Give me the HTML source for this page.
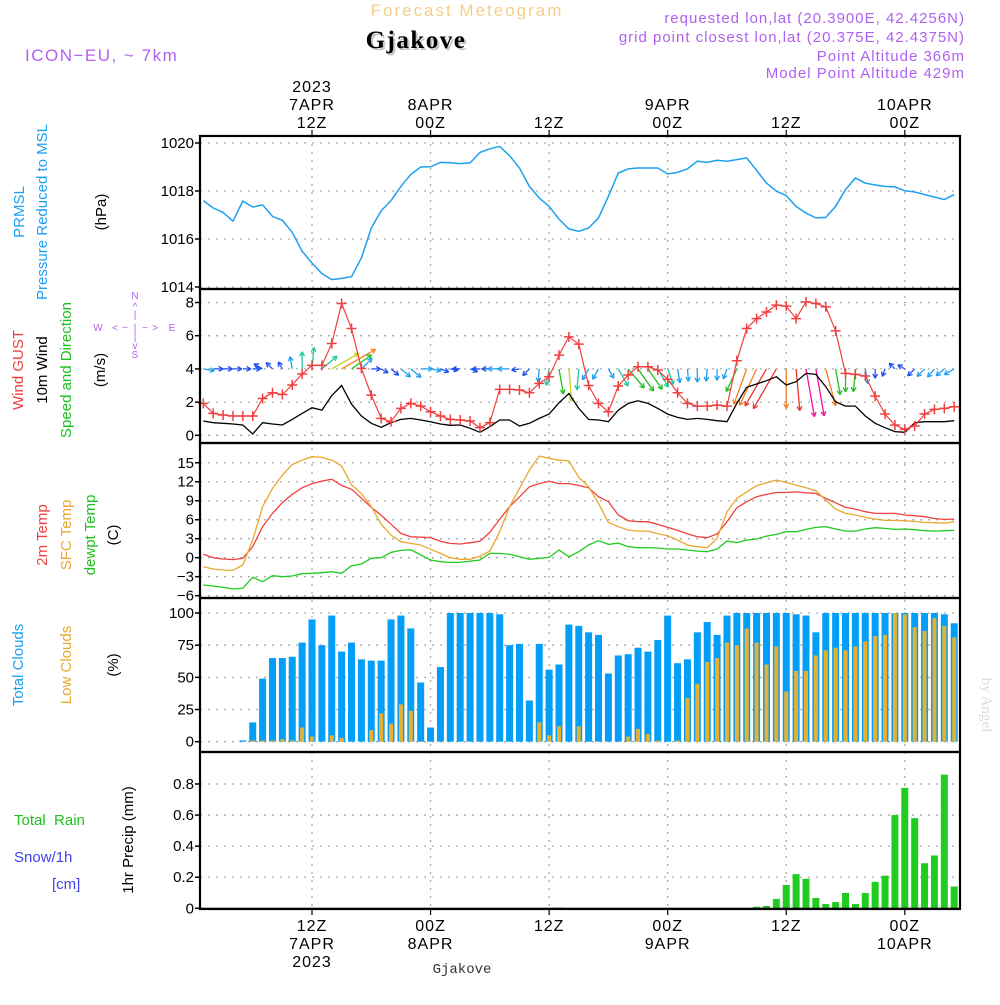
<!DOCTYPE html>
<html><head><meta charset="utf-8"><style>
body{margin:0;background:#fff;width:1000px;height:1000px;overflow:hidden}
svg{font-family:"Liberation Sans",sans-serif}
</style></head><body>
<svg id="chart" width="1000" height="1000" xmlns="http://www.w3.org/2000/svg">
<g>
<text x="467" y="16" font-size="17" fill="#f4cf8c" text-anchor="middle" letter-spacing="2">Forecast Meteogram</text>
<text x="418" y="50" font-size="25" font-weight="bold" fill="#bcc8bc" font-family="Liberation Serif,serif" text-anchor="middle" letter-spacing="1.5">Gjakove</text>
<text x="416" y="48" font-size="25" font-weight="bold" fill="#000" font-family="Liberation Serif,serif" text-anchor="middle" letter-spacing="1.5">Gjakove</text>
<text x="25" y="61" font-size="17" fill="#b060f0" letter-spacing="1.5">ICON−EU, ~ 7km</text>
<g font-size="15" fill="#b060f0" text-anchor="end" letter-spacing="1">
<text x="965" y="23">requested lon,lat (20.3900E, 42.4256N)</text>
<text x="965" y="42">grid point closest lon,lat (20.375E, 42.4375N)</text>
<text x="965" y="61">Point Altitude 366m</text>
<text x="965" y="78">Model Point Altitude 429m</text>
</g>
</g>
<g id="grid"></g>
<g id="marks"></g>
<g id="frame"></g>
<g id="labels" font-size="15">
<g text-anchor="middle" fill="#000">
<text transform="translate(24,212) rotate(-90)" fill="#1ea0f0">PRMSL</text>
<text transform="translate(47,212) rotate(-90)" fill="#1ea0f0">Pressure Reduced to MSL</text>
<text transform="translate(106,212) rotate(-90)">(hPa)</text>
<text transform="translate(23,370) rotate(-90)" fill="#f04040">Wind GUST</text>
<text transform="translate(47,370) rotate(-90)">10m Wind</text>
<text transform="translate(71,370) rotate(-90)" fill="#20c020">Speed and Direction</text>
<text transform="translate(105,370) rotate(-90)">(m/s)</text>
<text transform="translate(47,535) rotate(-90)" fill="#f04040">2m Temp</text>
<text transform="translate(71,535) rotate(-90)" fill="#e8a830">SFC Temp</text>
<text transform="translate(95,535) rotate(-90)" fill="#20c020">dewpt Temp</text>
<text transform="translate(118,535) rotate(-90)">(C)</text>
<text transform="translate(23,665) rotate(-90)" fill="#1ea0f0">Total Clouds</text>
<text transform="translate(71,665) rotate(-90)" fill="#e8a830">Low Clouds</text>
<text transform="translate(118,665) rotate(-90)">(%)</text>
<text transform="translate(133,840) rotate(-90)">1hr Precip (mm)</text>
<text transform="translate(982,705) rotate(90)" fill="#dcdcdc" font-family="Liberation Serif,serif">by Angel</text>
</g>
<text x="14" y="825" fill="#20c020" xml:space="preserve">Total  Rain</text>
<text x="14" y="862" fill="#4040f0">Snow/1h</text>
<text x="52" y="889" fill="#4040f0">[cm]</text>
<g fill="#b060f0" font-size="10" text-anchor="middle">
<text x="135" y="299">N</text><text x="135" y="310">^</text><text x="135" y="318">|</text>
<text x="135" y="340">|</text><text x="135" y="349">v</text><text x="135" y="358">S</text>
<text x="98" y="331">W</text><text x="172" y="331">E</text>
<text x="115" y="331">&lt;</text><text x="125" y="331">−</text><text x="135" y="331">|</text><text x="145" y="331">−</text><text x="155" y="331">&gt;</text>
</g>
<text x="462" y="973" font-size="14" font-family="Liberation Mono,monospace" fill="#333" text-anchor="middle">Gjakove</text>
</g>
</svg>
<script>
const hours=[];for(let h=1;h<=77;h++)hours.push(h);
const pressure=[1017.6,1017.29,1017.11,1016.74,1017.58,1017.33,1017.42,1016.94,1016.78,1016.28,1015.49,1015.0,1014.56,1014.31,1014.36,1014.43,1015.21,1016.46,1017.18,1017.6,1018.19,1018.69,1019.0,1019.01,1019.19,1019.18,1019.14,1019.17,1019.61,1019.76,1019.86,1019.47,1018.96,1018.19,1017.71,1017.36,1016.83,1016.42,1016.32,1016.46,1016.88,1017.78,1018.75,1018.92,1018.96,1018.96,1018.96,1018.71,1018.78,1018.92,1019.24,1019.19,1019.28,1019.24,1019.31,1019.38,1018.86,1018.33,1017.99,1017.81,1017.36,1017.08,1016.88,1016.9,1017.36,1018.06,1018.54,1018.33,1018.25,1018.19,1018.17,1018.01,1017.96,1017.85,1017.75,1017.64,1017.85];
const gust=[1.92,1.32,1.22,1.16,1.16,1.16,2.22,2.56,2.46,3.03,3.69,4.21,4.21,5.53,7.94,6.43,4.03,2.42,1.02,0.82,1.62,1.92,1.76,1.42,1.16,0.96,0.92,0.86,0.46,0.76,2.77,2.77,2.73,2.56,3.13,3.53,4.83,5.93,5.49,3.0,1.92,1.42,2.97,3.63,4.13,4.13,3.93,3.37,2.56,1.92,1.76,1.76,1.82,1.76,4.49,6.43,7.03,7.43,7.84,7.78,7.03,8.04,7.94,7.74,6.29,3.73,3.67,3.57,2.36,1.28,0.62,0.36,0.56,1.28,1.56,1.62,1.72];
const wind=[0.86,0.76,0.72,0.68,0.62,0.08,0.76,0.68,0.62,0.96,1.32,1.66,1.52,2.4,3.0,1.88,1.16,0.72,0.48,0.76,0.96,1.02,0.92,0.82,0.68,0.6,0.62,0.42,0.18,0.52,0.92,0.92,0.56,0.72,1.02,1.28,1.96,2.52,1.62,0.96,0.92,0.82,1.52,1.92,2.08,1.92,1.62,1.28,1.08,0.96,1.02,0.96,0.88,0.82,1.92,2.89,3.09,3.29,3.53,3.03,3.23,3.73,3.67,2.93,2.02,1.76,1.76,1.16,0.72,0.46,0.22,0.18,0.76,0.82,0.82,0.82,0.88];
const windDir=[-10,0,0,0,0,0,150,135,120,100,90,85,40,30,30,35,45,0,-30,-40,-40,-40,0,-10,-20,-10,180,-20,180,180,180,180,190,225,-95,-100,-80,-85,-95,-120,-120,-60,-60,-50,-55,-55,-60,-70,-80,-85,-90,-95,-90,-110,-115,-110,-115,-120,-120,-90,-85,-80,-80,-75,-80,-90,-95,-80,-90,-110,135,150,-135,-135,-130,-140,-150];
const temp2m=[0.53,0,-0.2,-0.3,-0.1,1.74,4.9,7.0,8.7,10.0,11.05,11.7,12.1,12.4,11.4,10.8,9.4,7.95,6.7,5.3,3.84,3.3,3.26,3.16,2.6,2.26,2.16,2.37,2.6,4.0,6.1,8.05,9.6,11.2,11.7,12.05,11.7,11.7,11.4,11.05,9.63,8.84,6.74,5.84,5.68,5.68,5.26,4.79,4.32,3.79,3.32,3.16,3.74,5.68,7.89,8.84,9.63,10.0,10.3,10.3,10.4,10.26,10.16,9.37,8.68,7.95,7.68,7.26,7.0,7.0,7.0,6.74,6.63,6.47,6.2,6.05,6.1];
const sfcTemp=[-1.42,-1.79,-1.95,-2.0,-1.16,2.79,8.05,10.95,13.05,14.7,15.4,15.95,15.84,15.4,14.5,11.5,10.16,8.05,5.3,3.58,2.53,2.26,2.0,1.32,0.68,0,-0.26,-0.26,0.26,1.05,4.1,8.05,10.95,13.84,16.05,15.7,15.4,15.3,12.7,11.2,8.58,5.58,4.89,4.37,4.2,4.2,3.79,3.47,2.79,2.0,1.74,1.58,3.05,7.26,9.37,10.4,11.37,11.84,12.26,11.9,11.47,11.05,10.58,9.1,7.68,7.0,6.74,6.37,6.1,5.9,5.9,5.84,5.74,5.58,5.53,5.47,5.68];
const dewpt=[-4.32,-4.47,-4.68,-4.95,-4.84,-3.1,-3.79,-2.84,-3.0,-2.89,-2.53,-2.47,-2.37,-2.21,-2.47,-1.26,-1.0,-0.1,0,0.84,1.16,1.26,0.42,-0.37,-0.63,-0.74,-0.74,-0.53,-0.37,0.68,0.68,0.53,0.16,-0.26,-0.1,0.05,1.21,0.16,0.95,2.0,2.68,2.1,2.3,1.74,1.58,1.58,1.53,1.37,1.37,1.21,1.05,0.95,1.37,2.63,2.37,2.79,2.95,3.42,3.68,4.1,4.1,4.47,4.79,4.89,4.53,4.21,4.21,4.53,4.74,4.63,4.47,4.53,4.42,4.26,4.21,4.26,4.32];
const totalClouds=[0,0,0,0,1,15,49,65,65,66,77,95,75,98,70,77,64,63,63,95,98,88,46,11,58,100,100,100,100,100,99,75,76,32,76,56,60,91,90,85,83,53,67,68,73,70,79,98,61,64,85,93,83,98,100,100,100,100,100,100,99,98,85,100,100,100,100,100,100,100,100,100,100,100,100,99,92];
const lowClouds=[0,0,0,0,0,1,1,1,2,1,11,4,0,5,3,0,0,9,22,14,29,24,0,0,0,0,0,0,0,0,0,0,0,0,15,5,12,0,12,0,0,0,0,4,10,6,1,0,1,34,45,62,65,77,75,88,77,60,74,39,55,55,67,71,73,71,74,78,82,83,100,99,89,86,96,90,81];
const precip=[0,0,0,0,0,0,0,0,0,0,0,0,0,0,0,0,0,0,0,0,0,0,0,0,0,0,0,0,0,0,0,0,0,0,0,0,0.004,0,0,0,0,0,0,0,0,0,0,0,0,0,0,0,0,0,0,0,0.01,0.015,0.06,0.15,0.22,0.19,0.067,0.028,0.04,0.099,0.028,0.099,0.17,0.21,0.6,0.775,0.58,0.29,0.34,0.86,0.14];
const pTicks=[1014,1016,1018,1020],wTicks=[0,2,4,6,8],tTicks=[-6,-3,0,3,6,9,12,15],cTicks=[0,25,50,75,100],rTicks=[0,0.2,0.4,0.6,0.8];
const timeTicks=[12,24,36,48,60,72];
const topTime=[["2023","7APR","12Z"],["","8APR","00Z"],["","","12Z"],["","9APR","00Z"],["","","12Z"],["","10APR","00Z"]];
const botTime=[["12Z","7APR","2023"],["00Z","8APR",""],["12Z","",""],["00Z","9APR",""],["12Z","",""],["00Z","10APR",""]];

const NS="http://www.w3.org/2000/svg";
const X0=200,X1=960;
const x=h=>312+(h-12)*9.88;
const py=p=>143+(1020-p)*24;
const wy=v=>435.3-v*16.6;
const ty=t=>557.7-t*6.33;
const cy=c=>741.7-c*1.287;
const ry=r=>908.3-r*155.4;
const panels=[[136,289],[289,443],[443,598],[598,752],[752,909]];
function el(tag,attrs,parent){const e=document.createElementNS(NS,tag);for(const k in attrs)e.setAttribute(k,attrs[k]);parent.appendChild(e);return e;}
const grid=document.getElementById('grid'),marks=document.getElementById('marks'),frame=document.getElementById('frame'),labels=document.getElementById('labels');
const dot={stroke:"#aaa","stroke-width":1.3,"stroke-dasharray":"2 6"};
function hgrid(ticks,f,fmt){ticks.forEach(t=>{const y=f(t);
 const g=el('line',Object.assign({x1:X0,x2:X1,y1:y,y2:y},dot),grid);
 
 
 el('line',{x1:X0-5,x2:X0,y1:y,y2:y,stroke:"#000","stroke-width":1.5},frame);
 const tx=el('text',{x:X0-6,y:y+5,"text-anchor":"end","font-size":15},labels);tx.textContent=fmt?fmt(t):String(t).replace('-','−');
 
 
});}
hgrid(pTicks,py);hgrid(wTicks,wy);hgrid(tTicks,ty);hgrid(cTicks,cy);hgrid(rTicks,ry,t=>t===0?"0":t.toFixed(1));
timeTicks.forEach((h,i)=>{const xx=x(h);
 const g=el('line',Object.assign({x1:xx,x2:xx,y1:136,y2:909},dot),grid);
 
 
 el('line',{x1:xx,x2:xx,y1:130,y2:136,stroke:"#000","stroke-width":1.2},frame);
 el('line',{x1:xx,x2:xx,y1:909,y2:915,stroke:"#000","stroke-width":1.2},frame);
 topTime[i].forEach((s,j)=>{if(!s)return;const t=el('text',{x:xx,y:92+j*18,"text-anchor":"middle","font-size":16,"letter-spacing":1},labels);t.textContent=s;
  
  });
 botTime[i].forEach((s,j)=>{if(!s)return;const t=el('text',{x:xx,y:931+j*18,"text-anchor":"middle","font-size":16,"letter-spacing":1},labels);t.textContent=s;
  
  });
});
panels.forEach(p=>{const r=el('rect',{x:X0,y:p[0],width:X1-X0,height:p[1]-p[0],fill:"none",stroke:"#000","stroke-width":2.2},frame);
 
 });
function line(vals,f,color,name,w){const pts=vals.map((v,i)=>x(hours[i]).toFixed(1)+","+f(v).toFixed(1)).join(" ");
 const l=el('polyline',{points:pts,fill:"none",stroke:color,"stroke-width":w||1.3},marks);
 
 return l;}
line(pressure,py,"#1ea0f0","pressure-line",1.5);
totalClouds.forEach((c,i)=>{const xx=x(hours[i]);
 const b=el('rect',{x:xx-3.5,y:cy(c),width:7,height:cy(0)-cy(c),fill:"#039ef8"},marks);
 
 });
lowClouds.forEach((c,i)=>{const xx=x(hours[i]);
 const b=el('rect',{x:xx-2,y:cy(c),width:4,height:cy(0)-cy(c),fill:"#e8b030"},marks);
 
 });
precip.forEach((r,i)=>{const xx=x(hours[i]);
 const b=el('rect',{x:xx-3.5,y:ry(r),width:7,height:ry(0)-ry(r),fill:"#20cc20"},marks);
 
 });
el('line',{x1:X0,x2:X1,y1:ry(0),y2:ry(0),stroke:"#000","stroke-width":1.2},marks);
line(temp2m,ty,"#f04040","temp-2m-line");
line(sfcTemp,ty,"#e8a830","sfc-temp-line");
line(dewpt,ty,"#20cc20","dewpoint-line");
function wcol(s){return s<0.8?"#2050f0":s<1.2?"#1ea0f0":s<1.7?"#20c8a0":s<2.2?"#20c020":s<2.7?"#c8d020":s<3.2?"#f08020":s<3.6?"#f03030":"#f010a0";}
windDir.forEach((d,i)=>{const xx=x(hours[i]),y0=wy(4),s=wind[i];const L=Math.max(8,s*13);const a=d*Math.PI/180;
 const x2=xx+L*Math.cos(a),y2=y0-L*Math.sin(a);const c=wcol(s);
 const g=el('g',{stroke:c,"stroke-width":1.3,fill:"none"},marks);
 
 
 el('line',{x1:xx,y1:y0,x2:x2,y2:y2},g);
 const ha=Math.atan2(y2-y0,x2-xx);
 [0.5,-0.5].forEach(o=>el('line',{x1:x2,y1:y2,x2:x2-5*Math.cos(ha+o),y2:y2-5*Math.sin(ha+o)},g));
});
line(wind,wy,"#000","wind-speed-line",1.3);
line(gust,wy,"#f04040","wind-gust-line",1.2);
gust.forEach((v,i)=>{const xx=x(hours[i]),y=wy(v);
 const p=el('path',{d:`M${xx-5},${y}h10M${xx},${y-5}v10`,stroke:"#f04040","stroke-width":1.5},marks);
 
 });
</script>
</body></html>
